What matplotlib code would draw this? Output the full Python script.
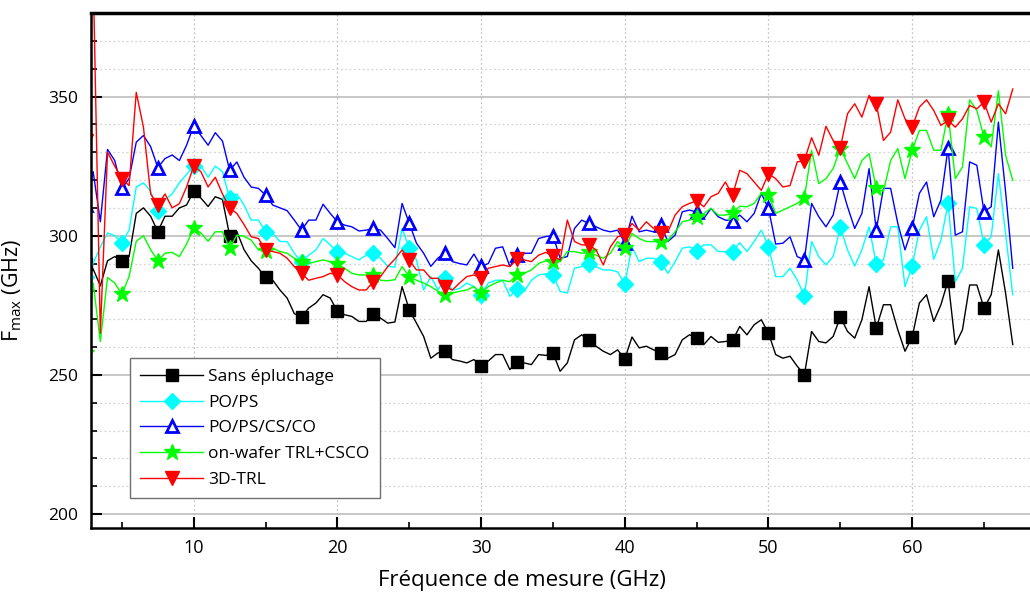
import matplotlib
matplotlib.use("Agg")
import matplotlib.pyplot as plt
import numpy as np
from matplotlib.ticker import MultipleLocator

plt.rcParams["font.family"] = ["Open Sans", "DejaVu Sans"]
plt.rcParams["mathtext.default"] = "regular"

# frequency grid (GHz), one point every 0.5 GHz
freq = np.arange(2.5, 67.01, 0.5)

sans_epluchage = [
    290, 288, 282, 291, 292.5, 291, 292.5, 308, 310, 307, 301.5, 307, 307, 310, 311, 316,
    313.5, 310.5, 314, 313, 300, 301.5, 295, 291, 288.3, 285, 284, 280.5, 277.6, 272,
    270.8, 274, 275.8, 278.8, 277.6, 272.8, 271.6, 271, 269.2, 269.2, 272, 270.4, 268.6,
    269, 281.7, 273.4, 268.6, 263.8, 256, 257.9, 258.5, 255.5, 255, 254.3, 255.5, 253.3,
    255, 257.3, 257.3, 251.9, 254.6, 254.3, 253.7, 257.3, 257, 257.9, 251.3, 254.3, 262.6,
    264.4, 262.4, 260.3, 258.5, 257.3, 259, 255.7, 263.6, 259.7, 260.3, 259, 257.9, 256,
    257.3, 262.6, 264.4, 263.4, 260.9, 263.8, 261.7, 262, 262.4, 267.4, 264.4, 268, 269.8,
    265, 257.3, 256, 256.7, 253.1, 250.1, 265.6, 262, 261.5, 263.8, 270.8, 265.6, 263.2,
    269.8, 281.7, 266.8, 275.2, 275.2, 266.2, 258.5, 263.6, 275.8, 278.8, 269.2, 275.2,
    283.9, 260.9, 266.2, 282.3, 282.3, 274, 278.8, 294.9, 279.4, 260.9,
]

po_ps = [
    285, 290, 296, 301, 300, 297.5, 302, 317.5, 319, 316, 309, 313, 315, 319, 322, 325,
    325, 321, 325, 323, 313.4, 315, 311, 305.6, 305.6, 301.4, 300.8, 297.9, 297.9, 293.7,
    290.5, 293, 294.9, 299, 296.7, 294, 293.7, 292.5, 291.3, 293, 293.7, 291.9, 289,
    288.7, 302.6, 295.5, 291.3, 280.5, 285.3, 280.5, 284.7, 280.5, 281, 283, 281.7, 278.8,
    283, 284, 284, 278.2, 280.8, 280, 284, 285.9, 286.3, 285.9, 280, 279.4, 288.3,
    288.9, 289.9, 288.9, 287.7, 287.7, 287, 282.7, 296, 290.7, 291.9, 291.9, 290.7, 286.5,
    290.7, 295.5, 296, 294.6, 296.7, 296.7, 294.3, 294.3, 294.3, 297.5, 294.3, 297.9, 302,
    296, 285.3, 285.3, 288.3, 284.1, 278.4, 297.9, 292.5, 289.5, 292.5, 303, 294.9, 289.1,
    294.9, 303.2, 289.9, 291.3, 303.2, 303.2, 281.7, 289.1, 302, 306.8, 291.5, 298.4,
    311.6, 283.5, 288.3, 310.4, 309.8, 296.7, 299.6, 322.3, 300.8, 278.8,
]

po_ps_cs_co = [
    311, 323, 305, 331, 327, 317, 320.5, 333.6, 336, 332, 324.5, 327.7, 329, 327, 332.5, 339.5,
    336, 332.5, 337, 334, 323.5, 326.5, 321, 317.5, 317, 314.6, 311, 310, 309, 305.6,
    302, 305.6, 305.6, 311.3, 308, 305, 303.8, 303.2, 301.7, 302, 302.6, 302, 299,
    295.7, 311.6, 304.4, 297.3, 293.7, 289, 292, 293.7, 290.7, 290, 289.5, 293.4, 289,
    290, 295.5, 296, 289, 293, 293.7, 293.7, 299, 299.7, 300, 291.9, 292.5, 302.6,
    305.6, 304.4, 303.2, 302, 301.4, 302, 297.5, 307, 301.4, 302, 301.4, 303.8, 297.9,
    300.2, 308.6, 309.2, 308.5, 306.2, 309.8, 306.8, 305.6, 305.4, 307.4, 305, 308, 315.2,
    309.8, 297, 297.3, 299.6, 292.5, 291.3, 311.6, 306.8, 303.2, 307.4, 319.3, 310.4, 302.6,
    308, 324.1, 302, 317, 317, 304.4, 294.9, 302.6, 315.2, 319.3, 306.8, 312.8,
    331.6, 300.2, 301.4, 326.5, 325.3, 308.6, 310.4, 340.8, 315.8, 288.3,
]

on_wafer_trl_csco = [
    258, 283, 262, 285, 283, 279, 285.3, 298, 300, 295, 291, 293.7, 294, 292.5, 297, 302.6,
    301, 298, 301.4, 301.4, 295.5, 300.2, 299.8, 298.4, 294.9, 294.5, 295.5, 294.3, 293.7, 291.9,
    290.7, 290, 290.7, 291.3, 290.7, 289.9, 288.3, 286.5, 285.9, 285.9, 285.9, 284, 283.8,
    284.2, 288.9, 285.3, 284, 283, 281.7, 280, 278.8, 279.4, 280, 280.5, 281.7, 279.4,
    281.7, 283, 284, 283.5, 285.9, 286.5, 287.7, 290, 291, 290.7, 290.7, 294.3, 294.3,
    293.7, 294, 293, 291.9, 293.7, 297.9, 295.5, 300.8, 299, 297.9, 297.9, 297.9, 298.4,
    301.4, 305, 305.6, 306.8, 308, 309.8, 307.4, 307.4, 308, 310.6, 310.4, 311.6, 315.2,
    314.6, 308, 309.2, 310.4, 311.6, 313.7, 330.7, 318.7, 320.5, 324.1, 331.3, 325.9, 320.5,
    327, 329.5, 317, 315.9, 327, 331.3, 320.5, 330.7, 337.8, 337.8, 330.7, 330.7,
    343.8, 320.5, 324.7, 348.8, 345, 335.4, 331.9, 352.1, 328.9, 319.9,
]

trl_3d = [
    334, 395, 265, 330, 325, 320.5, 318, 351.5, 339, 315, 311, 315, 310, 311.5, 317.5, 325,
    323, 317.5, 321, 315, 310, 308, 304, 299.6, 299, 294.9, 294.3, 293.7, 291.9, 288.9,
    286.5, 284, 284.7, 285.3, 286.5, 286, 283.5, 281.7, 280.5, 280.5, 283.5, 285.3, 288.9,
    291.6, 294.9, 291.3, 287.7, 287.7, 284.7, 284.7, 281.7, 280.5, 283, 285.3, 285.9, 284.7,
    288.3, 288.9, 289.5, 288.9, 291.5, 291.3, 290.7, 293, 294, 292.7, 291.3, 305.6, 297.9,
    296.7, 296.7, 294.9, 289.5, 296, 299.6, 300.2, 304.4, 302, 305, 302.6, 300.8, 301.4,
    307.4, 310.4, 311.6, 312.5, 310.4, 314, 315.2, 319.3, 314.6, 323.5, 322.3, 319.3, 316.3,
    322.3, 320.5, 317.5, 318, 326.5, 327, 335.2, 328.9, 339.3, 334.2, 331.6, 343.8, 347.4,
    342.6, 350.4, 347.4, 334.2, 337.2, 348.8, 342, 339, 346.2, 348.8, 345, 339.6,
    341.4, 339, 342, 346.8, 345.6, 348, 340.8, 347.4, 343.8, 352.7,
]

series = [
    ("Sans épluchage", sans_epluchage, "#000000", dict(marker="s", ms=8.5, mfc="#000000", mec="#000000")),
    ("PO/PS", po_ps, "#00FFFF", dict(marker="D", ms=8.5, mfc="#00FFFF", mec="#00FFFF")),
    ("PO/PS/CS/CO", po_ps_cs_co, "#0000FF", dict(marker="^", ms=9, mfc="white", mec="#0000FF", mew=2)),
    ("on-wafer TRL+CSCO", on_wafer_trl_csco, "#00FF00", dict(marker="*", ms=12, mfc="#00FF00", mec="#00FF00")),
    ("3D-TRL", trl_3d, "#FF0000", dict(marker="v", ms=10, mfc="#FF0000", mec="#FF0000")),
]

fig = plt.figure(figsize=(10.3, 5.97), dpi=100)
ax = fig.add_axes([91 / 1030, 1 - 528 / 597, 939 / 1030, 515 / 597])

for label, values, color, mk in series:
    ax.plot(freq, values, color=color, lw=1.0, markevery=5, label=label, **mk)

ax.set_xlim(2.85, 68.2)
ax.set_ylim(195, 380)

ax.xaxis.set_major_locator(MultipleLocator(10))
ax.xaxis.set_minor_locator(MultipleLocator(5))
ax.yaxis.set_major_locator(MultipleLocator(50))
ax.yaxis.set_minor_locator(MultipleLocator(10))

# grid: solid majors on y, dotted minors on y, dotted on x
ax.grid(axis="y", which="major", color="#bdbdbd", lw=1.2, ls="-")
ax.grid(axis="y", which="minor", color="#d4d4d4", lw=0.9, ls=(0, (1.5, 2)))
ax.grid(axis="x", which="major", color="#c4c4c4", lw=0.9, ls=(0, (1.5, 2)))
ax.set_axisbelow(True)

ax.tick_params(axis="both", which="major", direction="in", length=8, width=1.5, color="black")
ax.tick_params(axis="both", which="minor", direction="in", length=4, width=1.2, color="black")
ax.tick_params(axis="y", which="major", labelsize=12.5, pad=9)
ax.tick_params(axis="x", which="major", labelsize=13, pad=8)

for side in ["left", "bottom"]:
    ax.spines[side].set_linewidth(1.8)
ax.spines["top"].set_linewidth(2.5)
ax.spines["right"].set_visible(False)

ax.set_xlabel("Fréquence de mesure (GHz)", fontsize=16)
ax.xaxis.set_label_coords(0.459, -0.081)
ax.set_ylabel("$F_{max}$ (GHz)", fontsize=15.5)
ax.yaxis.set_label_coords(-0.071, 0.462)

leg = ax.legend(
    loc="lower left",
    bbox_to_anchor=(0.0415, 0.058),
    fontsize=12.5,
    frameon=True,
    fancybox=False,
    edgecolor="#707070",
    framealpha=1,
    handlelength=3.6,
    handletextpad=0.3,
    labelspacing=0.55,
    borderpad=0.6,
    borderaxespad=0,
    markerscale=1.0,
)
leg.get_frame().set_linewidth(1.0)

fig.savefig("out.png", dpi=100)
